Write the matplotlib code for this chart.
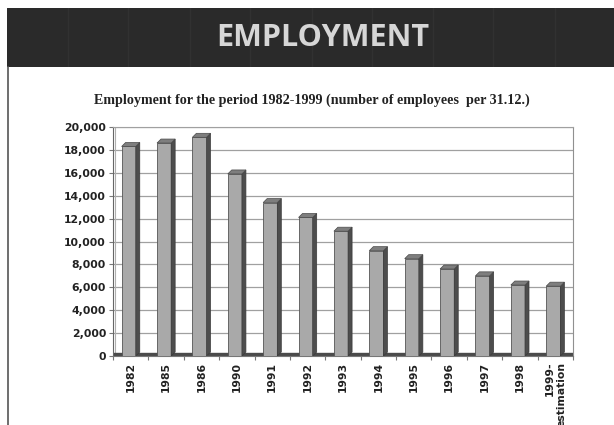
import numpy as np
import matplotlib.pyplot as plt
from matplotlib.patches import Rectangle, Polygon

years = ["1982", "1985", "1986", "1990", "1991", "1992", "1993",
         "1994", "1995", "1996", "1997", "1998", "1999-\nestimation"]
employees = [18300, 18600, 19100, 15900, 13400, 12100, 10900,
             9200, 8500, 7600, 7000, 6200, 6100]
yticks = list(range(0, 20001, 2000))

W, H = 614, 425
fig = plt.figure(figsize=(W / 100, H / 100), dpi=100)
fig.patch.set_facecolor("white")

# dark banner across the top
band = fig.add_axes([7 / W, 1 - 67 / H, 1 - 7 / W, 59 / H])
band.set_xlim(7, W)
band.set_ylim(0, 1)
band.axis("off")
band.add_patch(Rectangle((7, 0), W, 1, color="#2a2a2a"))
for xv in [68, 128, 190, 250, 312, 372, 433, 493, 555]:
    band.axvline(xv, color="#313131", lw=1)
band.text(323, 0.5, "EMPLOYMENT", color="#d6d6d6", fontsize=22,
          fontweight="bold", family="Open Sans", ha="center", va="center")

# thin border down the left of the white panel
fig.add_artist(plt.Line2D([8 / W, 8 / W], [0, 1 - 67 / H], color="#555555", lw=1.2))

fig.text(312 / W, 1 - 100 / H,
         "Employment for the period 1982-1999 (number of employees  per 31.12.)",
         family="Liberation Serif", fontweight="bold", fontsize=10.2,
         ha="center", va="center", color="#222222")

x0, x1, ytop, ybot = 113, 573, 127, 356
ax = fig.add_axes([x0 / W, 1 - ybot / H, (x1 - x0) / W, (ybot - ytop) / H])
n = len(years)
pos = np.arange(n)
ax.set_xlim(-0.5, n - 0.5)
ax.set_ylim(0, 20000)

# pixel -> data scale for the 3d offsets
px_x = n / (x1 - x0)
px_y = 20000 / (ybot - ytop)
dx, dy = 4 * px_x, 4 * px_y
bw = 0.4

for v in yticks[1:]:
    ax.axhline(v, color="#a0a0a0", lw=0.9, zorder=1)
ax.add_patch(Rectangle((-0.5, 0), n, 3 * px_y, color="#4a4a4a", zorder=1.5))

for p, v in zip(pos, employees):
    left = p - bw / 2 - dx / 2
    ax.add_patch(Rectangle((left, 0), bw, v, facecolor="#a9a9a9",
                           edgecolor="#555555", lw=0.6, zorder=3))
    ax.add_patch(Polygon([(left + bw, 0), (left + bw + dx, dy), (left + bw + dx, v + dy),
                          (left + bw, v)], closed=True, facecolor="#4d4d4d",
                         edgecolor="#3a3a3a", lw=0.5, zorder=3))
    ax.add_patch(Polygon([(left, v), (left + dx, v + dy), (left + bw + dx, v + dy),
                          (left + bw, v)], closed=True, facecolor="#7e7e7e",
                         edgecolor="#4a4a4a", lw=0.5, zorder=3))

ax.axvline(-0.5 + 2.5 * px_x, color="#b0b0b0", lw=0.8, zorder=1)
ax.spines["top"].set_color("#a0a0a0")
ax.spines["right"].set_color("#909090")
ax.spines["left"].set_color("#666666")
ax.spines["bottom"].set_color("#777777")

ax.set_yticks(yticks)
ax.set_yticklabels([f"{v:,}" for v in yticks], fontsize=7.8, fontweight="bold",
                   color="#222222")
ax.tick_params(axis="y", length=3, width=0.8, color="#777777", pad=2)
ax.set_xticks(np.arange(n + 1) - 0.5, minor=False)
ax.set_xticklabels([])
ax.tick_params(axis="x", length=3, width=0.8, color="#777777")
ax.set_xticks(pos, minor=True)
ax.set_xticklabels(years, minor=True, rotation=90, fontsize=7.8,
                   fontweight="bold", color="#222222", va="top", ha="center",
                   multialignment="right")
ax.tick_params(axis="x", which="minor", length=0, pad=4)

fig.savefig("out.png", dpi=100)
